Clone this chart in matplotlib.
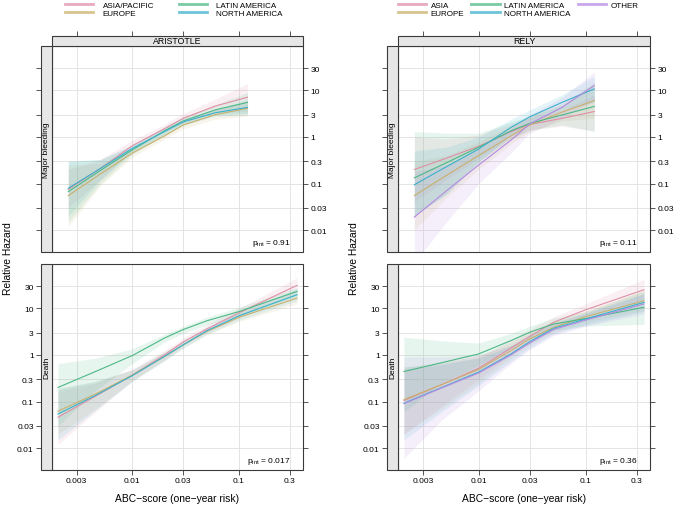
import matplotlib
matplotlib.use("Agg")
import matplotlib.pyplot as plt
from matplotlib.patches import Rectangle
from matplotlib.lines import Line2D
from matplotlib.ticker import FixedLocator, FixedFormatter, NullLocator

plt.rcParams['font.family'] = ['Liberation Sans', 'DejaVu Sans']
plt.rcParams['mathtext.fontset'] = 'custom'
plt.rcParams['mathtext.rm'] = 'Liberation Sans'

# ---- data ----
x_ticks = [0.003, 0.01, 0.03, 0.1, 0.3]
x_tick_labels = ["0.003", "0.01", "0.03", "0.1", "0.3"]
y_ticks = [0.01, 0.03, 0.1, 0.3, 1, 3, 10, 30]
y_tick_labels = ["0.01", "0.03", "0.1", "0.3", "1", "3", "10", "30"]

aristotle_regions = ["ASIA/PACIFIC", "EUROPE", "LATIN AMERICA", "NORTH AMERICA"]
rely_regions = ["ASIA", "EUROPE", "LATIN AMERICA", "NORTH AMERICA", "OTHER"]

# major bleeding: risk grid
bleed_x = [0.0025, 0.005, 0.01, 0.02, 0.03, 0.06, 0.12]
# death: risk grid
death_x = [0.002, 0.0045, 0.01, 0.02, 0.03, 0.05, 0.1, 0.35]

# ARISTOTLE, major bleeding
ari_bleed_asia = [0.075, 0.21, 0.65, 1.5, 2.5, 4.6, 7.1]
ari_bleed_asia_lo = [0.03, 0.12, 0.5, 1.25, 2.0, 3.3, 3.5]
ari_bleed_asia_hi = [0.2, 0.33, 0.85, 1.85, 3.2, 6.5, 14]
ari_bleed_europe = [0.055, 0.16, 0.45, 1.05, 1.8, 3.0, 4.1]
ari_bleed_europe_lo = [0.012, 0.09, 0.37, 0.9, 1.5, 2.4, 2.8]
ari_bleed_europe_hi = [0.25, 0.27, 0.55, 1.25, 2.2, 3.8, 6]
ari_bleed_latin = [0.067, 0.19, 0.53, 1.35, 2.2, 3.8, 5.5]
ari_bleed_latin_lo = [0.015, 0.1, 0.43, 1.1, 1.85, 3.0, 3.2]
ari_bleed_latin_hi = [0.3, 0.32, 0.65, 1.65, 2.7, 4.8, 9]
ari_bleed_north = [0.079, 0.21, 0.57, 1.3, 2.1, 3.3, 4.3]
ari_bleed_north_lo = [0.02, 0.12, 0.48, 1.1, 1.8, 2.8, 3.0]
ari_bleed_north_hi = [0.3, 0.33, 0.68, 1.55, 2.45, 3.9, 6.2]

# RELY, major bleeding
rely_bleed_asia = [0.2, 0.35, 0.63, 1.3, 1.85, 2.5, 3.5]
rely_bleed_asia_lo = [0.04, 0.12, 0.35, 0.9, 1.4, 1.7, 1.35]
rely_bleed_asia_hi = [1.0, 0.9, 1.1, 1.9, 2.6, 3.7, 8]
rely_bleed_europe = [0.055, 0.15, 0.40, 1.05, 1.8, 3.4, 6.0]
rely_bleed_europe_lo = [0.01, 0.05, 0.2, 0.7, 1.3, 2.2, 2.5]
rely_bleed_europe_hi = [0.3, 0.4, 0.8, 1.7, 2.8, 5.2, 14]
rely_bleed_latin = [0.132, 0.28, 0.6, 1.35, 1.95, 2.95, 4.5]
rely_bleed_latin_lo = [0.02, 0.06, 0.3, 0.9, 1.4, 1.8, 1.3]
rely_bleed_latin_hi = [1.3, 1.2, 1.2, 2.1, 2.8, 4.8, 15]
rely_bleed_north = [0.094, 0.23, 0.55, 1.6, 2.7, 5.5, 10.7]
rely_bleed_north_lo = [0.02, 0.06, 0.28, 1.1, 2.0, 3.8, 5.5]
rely_bleed_north_hi = [0.5, 0.6, 1.0, 2.4, 3.8, 8.0, 20]
rely_bleed_other = [0.019, 0.07, 0.25, 0.85, 1.9, 4.3, 12.6]
rely_bleed_other_lo = [0.002, 0.015, 0.1, 0.45, 1.2, 2.5, 6]
rely_bleed_other_hi = [0.18, 0.25, 0.55, 1.5, 3.0, 7, 25]

# ARISTOTLE, death
ari_death_asia = [0.046, 0.13, 0.37, 1.0, 1.9, 3.6, 8.0, 31]
ari_death_asia_lo = [0.012, 0.06, 0.28, 0.8, 1.6, 3.0, 6.4, 22]
ari_death_asia_hi = [0.17, 0.25, 0.5, 1.25, 2.3, 4.5, 10, 45]
ari_death_europe = [0.062, 0.145, 0.37, 0.93, 1.65, 3.2, 6.4, 16.5]
ari_death_europe_lo = [0.02, 0.07, 0.28, 0.75, 1.4, 2.7, 5.2, 12.5]
ari_death_europe_hi = [0.19, 0.27, 0.48, 1.15, 1.95, 3.9, 7.9, 22]
ari_death_latin = [0.20, 0.44, 0.97, 2.3, 3.5, 5.4, 8.5, 23]
ari_death_latin_lo = [0.03, 0.17, 0.65, 1.9, 2.9, 4.4, 6.8, 18]
ari_death_latin_hi = [0.65, 0.85, 1.35, 2.8, 4.1, 6.5, 10.5, 28]
ari_death_north = [0.054, 0.135, 0.36, 0.93, 1.65, 3.3, 6.9, 19.5]
ari_death_north_lo = [0.015, 0.065, 0.27, 0.75, 1.4, 2.8, 5.6, 14.5]
ari_death_north_hi = [0.19, 0.27, 0.48, 1.15, 1.95, 4.0, 8.5, 26]

# RELY, death
rely_death_asia = [0.105, 0.23, 0.52, 1.4, 2.5, 5.0, 9.3, 25]
rely_death_asia_lo = [0.02, 0.08, 0.3, 1.0, 1.9, 3.8, 7.0, 15]
rely_death_asia_hi = [0.5, 0.6, 0.9, 2.1, 3.5, 6.5, 12.5, 42]
rely_death_europe = [0.11, 0.23, 0.49, 1.24, 2.2, 3.9, 6.6, 14.5]
rely_death_europe_lo = [0.02, 0.07, 0.25, 0.85, 1.6, 3.0, 5.0, 9]
rely_death_europe_hi = [0.55, 0.7, 0.95, 1.8, 3.0, 5.1, 8.7, 24]
rely_death_latin = [0.44, 0.68, 1.05, 2.03, 3.06, 4.6, 6.0, 10.5]
rely_death_latin_lo = [0.06, 0.25, 0.6, 1.4, 2.2, 3.3, 4.2, 4.5]
rely_death_latin_hi = [2.4, 2.0, 1.8, 2.9, 4.1, 6.2, 8.5, 24]
rely_death_north = [0.092, 0.2, 0.43, 1.05, 1.93, 3.7, 5.9, 13.4]
rely_death_north_lo = [0.015, 0.06, 0.22, 0.72, 1.4, 2.8, 4.4, 8.5]
rely_death_north_hi = [0.55, 0.65, 0.85, 1.55, 2.7, 4.9, 8.0, 21]
rely_death_other = [0.09, 0.195, 0.41, 1.0, 1.8, 3.5, 5.6, 12.4]
rely_death_other_lo = [0.006, 0.04, 0.17, 0.65, 1.3, 2.6, 4.1, 7.5]
rely_death_other_hi = [0.9, 0.9, 1.0, 1.6, 2.5, 4.7, 7.7, 20]

p_values = {("ARISTOTLE", 0): "0.91", ("ARISTOTLE", 1): "0.017",
            ("RELY", 0): "0.11", ("RELY", 1): "0.36"}

colors = ['#DE8FA6', '#C8B06C', '#4CB885', '#3AB1CC', '#B68AE3']

# ---- layout (pixels of a 676x506 figure) ----
W, H = 676, 506
fig = plt.figure(figsize=(W / 100, H / 100), dpi=100)

frame_col = '#3a3a3a'
strip_col = '#E6E6E6'
strip_w = 11      # px, left strip
strip_h = 10.5    # px, top strip
tick_fs = 6


def px_box(x0, y0, x1, y1):
    return [x0 / W, 1 - y1 / H, (x1 - x0) / W, (y1 - y0) / H]


def add_rect(x0, y0, x1, y1):
    r = Rectangle((x0 / W, 1 - y1 / H), (x1 - x0) / W, (y1 - y0) / H,
                  transform=fig.transFigure, facecolor=strip_col,
                  edgecolor=frame_col, lw=0.8)
    fig.patches.append(r)


def draw_panel(ax, x, series, row, trial):
    for i, (mid, lo, hi) in enumerate(series):
        ax.fill_between(x, lo, hi, color=colors[i], alpha=0.13, lw=0)
    for i, (mid, lo, hi) in enumerate(series):
        ax.plot(x, mid, color=colors[i], lw=0.8)

    ax.set_xscale('log')
    ax.set_yscale('log')
    ax.set_xlim(0.00176, 0.398)
    ax.set_ylim(0.0034, 89)
    ax.xaxis.set_major_locator(FixedLocator(x_ticks))
    ax.xaxis.set_major_formatter(FixedFormatter(x_tick_labels))
    ax.yaxis.set_major_locator(FixedLocator(y_ticks))
    ax.yaxis.set_major_formatter(FixedFormatter(y_tick_labels))
    ax.xaxis.set_minor_locator(NullLocator())
    ax.yaxis.set_minor_locator(NullLocator())
    ax.grid(True, which='major', color='#E4E4E4', lw=0.7)
    ax.set_axisbelow(True)

    for s in ax.spines.values():
        s.set_visible(False)
    ax.spines['left'].set_position(('outward', strip_w * 0.72))
    ax.spines['top'].set_position(('outward', strip_h * 0.72))
    ax.add_patch(Rectangle((0, 0), 1, 1, transform=ax.transAxes, fill=False,
                           edgecolor=frame_col, lw=0.8, clip_on=False, zorder=5))

    ax.tick_params(which='major', length=3.3, width=0.6, color=frame_col,
                   labelsize=tick_fs, pad=2, direction='out')
    if row == 0:
        ax.tick_params(axis='x', top=True, bottom=False, labeltop=False, labelbottom=False)
        ax.tick_params(axis='y', left=True, right=True, labelleft=False, labelright=True)
    else:
        ax.tick_params(axis='x', top=False, bottom=True, labeltop=False, labelbottom=True)
        ax.tick_params(axis='y', left=True, right=True, labelleft=True, labelright=False)

    ax.text(0.95, 0.04, r'p$_{\mathregular{int}}$ = ' + p_values[(trial, row)],
            transform=ax.transAxes, ha='right', va='baseline', fontsize=tick_fs)


panels = [
    ("ARISTOTLE", 52, 303, [
        (bleed_x, [(ari_bleed_asia, ari_bleed_asia_lo, ari_bleed_asia_hi),
                   (ari_bleed_europe, ari_bleed_europe_lo, ari_bleed_europe_hi),
                   (ari_bleed_latin, ari_bleed_latin_lo, ari_bleed_latin_hi),
                   (ari_bleed_north, ari_bleed_north_lo, ari_bleed_north_hi)]),
        (death_x, [(ari_death_asia, ari_death_asia_lo, ari_death_asia_hi),
                   (ari_death_europe, ari_death_europe_lo, ari_death_europe_hi),
                   (ari_death_latin, ari_death_latin_lo, ari_death_latin_hi),
                   (ari_death_north, ari_death_north_lo, ari_death_north_hi)]),
    ]),
    ("RELY", 398, 650, [
        (bleed_x, [(rely_bleed_asia, rely_bleed_asia_lo, rely_bleed_asia_hi),
                   (rely_bleed_europe, rely_bleed_europe_lo, rely_bleed_europe_hi),
                   (rely_bleed_latin, rely_bleed_latin_lo, rely_bleed_latin_hi),
                   (rely_bleed_north, rely_bleed_north_lo, rely_bleed_north_hi),
                   (rely_bleed_other, rely_bleed_other_lo, rely_bleed_other_hi)]),
        (death_x, [(rely_death_asia, rely_death_asia_lo, rely_death_asia_hi),
                   (rely_death_europe, rely_death_europe_lo, rely_death_europe_hi),
                   (rely_death_latin, rely_death_latin_lo, rely_death_latin_hi),
                   (rely_death_north, rely_death_north_lo, rely_death_north_hi),
                   (rely_death_other, rely_death_other_lo, rely_death_other_hi)]),
    ]),
]
row_y = [(47, 253), (265, 471)]
outcomes = ["Major bleeding", "Death"]

for trial, x0, x1, rows in panels:
    for row, (xs, series) in enumerate(rows):
        y0, y1 = row_y[row]
        ax = fig.add_axes(px_box(x0, y0, x1, y1))
        draw_panel(ax, xs, series, row, trial)
        # left strip with outcome name
        add_rect(x0 - strip_w, y0, x0, y1)
        fig.text((x0 - strip_w / 2) / W, 1 - (y0 + y1) / 2 / H, outcomes[row],
                 rotation=90, ha='center', va='center', fontsize=6)
    # top strip with trial name
    add_rect(x0, row_y[0][0] - strip_h, x1, row_y[0][0])
    fig.text((x0 + x1) / 2 / W, 1 - (row_y[0][0] - strip_h / 2) / H, trial,
             ha='center', va='center', fontsize=6.3)
    fig.text((x0 + x1) / 2 / W, 1 - 499 / H, "ABC\u2212score (one\u2212year risk)",
             ha='center', va='center', fontsize=7.4)
    fig.text((x0 - 44) / W, 1 - 259 / H, "Relative Hazard", rotation=90,
             ha='center', va='center', fontsize=7.4)

# legends
handles_a = [Line2D([], [], color=colors[i], lw=2, alpha=0.75) for i in range(4)]
fig.legend(handles_a, aristotle_regions, loc='upper left',
           bbox_to_anchor=(65 / W, 1 - 2.5 / H), ncol=2, frameon=False,
           fontsize=5.8, handlelength=3.5, handletextpad=1.2, columnspacing=3.0,
           labelspacing=0.05, borderpad=0, borderaxespad=0)
handles_r = [Line2D([], [], color=colors[i], lw=2, alpha=0.75) for i in range(5)]
fig.legend(handles_r, rely_regions, loc='upper left',
           bbox_to_anchor=(398 / W, 1 - 2.5 / H), ncol=3, frameon=False,
           fontsize=5.8, handlelength=3.5, handletextpad=0.55, columnspacing=0.9,
           labelspacing=0.05, borderpad=0, borderaxespad=0)

fig.savefig("out.png", dpi=100)
